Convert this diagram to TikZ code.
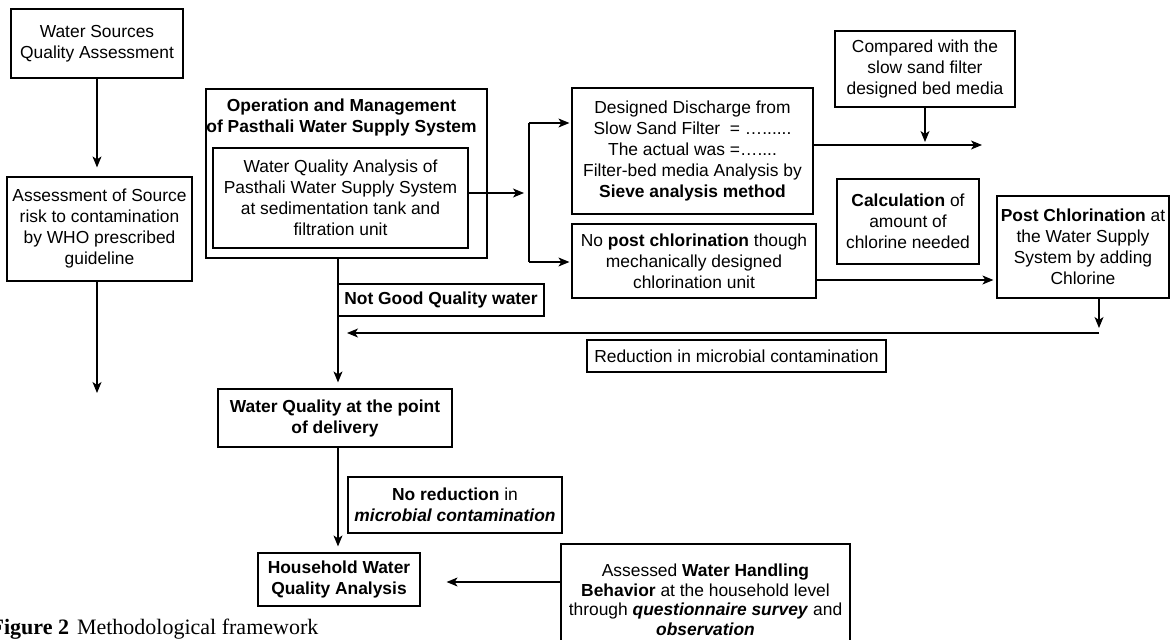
\documentclass[tikz,border=0pt]{standalone}
\usepackage{fontspec}
\setmainfont{Liberation Sans}
\newfontfamily\capfont{Liberation Serif}
\usetikzlibrary{arrows.meta}

\begin{document}
\fontsize{17.4}{21}\selectfont
\begin{tikzpicture}[x=1pt,y=-1pt,line width=1.2pt,
  >={Stealth[length=11pt,width=9pt,inset=3pt]},
  box/.style={draw,align=center,inner sep=0pt}]
  \useasboundingbox (0,0) rectangle (1171,640);
  % left column
  \node[box,minimum width=172pt,minimum height=69pt] (src) at (97,43.5) {Water Sources\\Quality Assessment};
  \node[box,minimum width=185pt,minimum height=104pt] (risk) at (99.5,229) {Assessment of Source\\risk to contamination\\by WHO prescribed\\guideline};
  % O&M block (frame + title + inner box)
  \node[box,minimum width=281pt,minimum height=169pt] (om) at (346.5,173.5) {};
  \node[font=\bfseries,align=center,inner sep=0pt] (omtitle) at (341.5,117.5) {Operation and Management\\of Pasthali Water Supply System};
  \node[box,minimum width=255pt,minimum height=100pt] (wqa) at (340.5,198) {Water Quality Analysis of\\Pasthali Water Supply System\\at sedimentation tank and\\filtration unit};
  % filter / chlorination branch
  \node[box,minimum width=241pt,minimum height=126pt] (dis) at (692.5,151) {Designed Discharge from\\Slow Sand Filter~ = …......\\The actual was =…....\\Filter-bed media Analysis by\\\textbf{Sieve analysis method}};
  \node[box,minimum width=244pt,minimum height=74pt] (nopc) at (694,261) {No \textbf{post chlorination} though\\mechanically designed\\chlorination unit};
  \node[box,minimum width=180pt,minimum height=76pt] (cmp) at (925,69) {Compared with the\\slow sand filter\\designed bed media};
  \node[box,minimum width=142pt,minimum height=85pt] (calc) at (908,221.5) {\textbf{Calculation} of\\amount of\\chlorine needed};
  \node[box,minimum width=172pt,minimum height=102pt] (postc) at (1083,247) {\textbf{Post Chlorination} at\\the Water Supply\\System by adding\\Chlorine};
  % labels along the trunk
  \node[box,font=\bfseries,minimum width=206pt,minimum height=32pt] (bad) at (441,300) {Not Good Quality water};
  \node[box,minimum width=299pt,minimum height=32pt] (red) at (736.5,356) {Reduction in microbial contamination};
  % delivery and household
  \node[box,font=\bfseries,minimum width=234pt,minimum height=58pt] (pod) at (335,418) {Water Quality at the point\\of delivery};
  \node[box,minimum width=214pt,minimum height=56pt] (nored) at (455,505) {\textbf{No reduction} in\\\textbf{\textit{microbial contamination}}};
  \node[box,font=\bfseries,minimum width=162pt,minimum height=53pt] (hh) at (339,579.5) {Household Water\\Quality Analysis};
  \node[box,font=\fontsize{17.4}{19.5}\selectfont,minimum width=289pt,minimum height=112pt] (behav) at (705.5,600) {Assessed \textbf{Water Handling}\\\textbf{Behavior} at the household level\\through \textbf{\textit{questionnaire survey}} and\\\textbf{\textit{observation}}};
  % caption
  \node[font=\capfont\fontsize{22}{26}\selectfont,anchor=base west,inner sep=0pt] (cap) at (-10,634) {\textbf{Figure 2}\hspace{8pt}Methodological framework};
  % helper points
  \coordinate (trunk) at (338,0);
  \coordinate (riskend) at (97,393);
  \coordinate (forkT) at (529,123);
  \coordinate (forkB) at (529,262);
  \coordinate (disend) at (982,145);
  \coordinate (postin) at (postc.west |- 0,280);
  \coordinate (ret) at (1099,333);
  \coordinate (hhin) at (hh.east |- 0,582);
  % connectors
  \draw[->,shorten >=9pt] (src) -- (src |- risk.north);
  \draw[->] (riskend |- risk.south) -- (riskend);
  \draw[->,shorten >=6pt] (trunk |- om.south) -- (trunk |- pod.north);
  \draw[->,shorten >=5pt] (wqa.east |- 0,193) -- (forkT |- 0,193);
  \draw (forkT) -- (forkB);
  \draw[->,shorten >=2pt] (forkT) -- (forkT -| dis.west);
  \draw[->,shorten >=2pt] (forkB) -- (forkB -| nopc.west);
  \draw[->] (dis.east |- disend) -- (disend);
  \draw[->,shorten >=3pt] (cmp) -- (cmp |- disend);
  \draw[->,shorten >=3pt] (nopc.east |- postin) -- (postin);
  \draw[->,shorten >=5pt] (postc.south -| ret) -- (ret);
  \draw[->,shorten >=9pt] (ret) -- (ret -| trunk);
  \draw[->,shorten >=6pt] (trunk |- pod.south) -- (trunk |- hh.north);
  \draw[->,shorten >=26pt] (behav.west |- hhin) -- (hhin);
\end{tikzpicture}
\end{document}
